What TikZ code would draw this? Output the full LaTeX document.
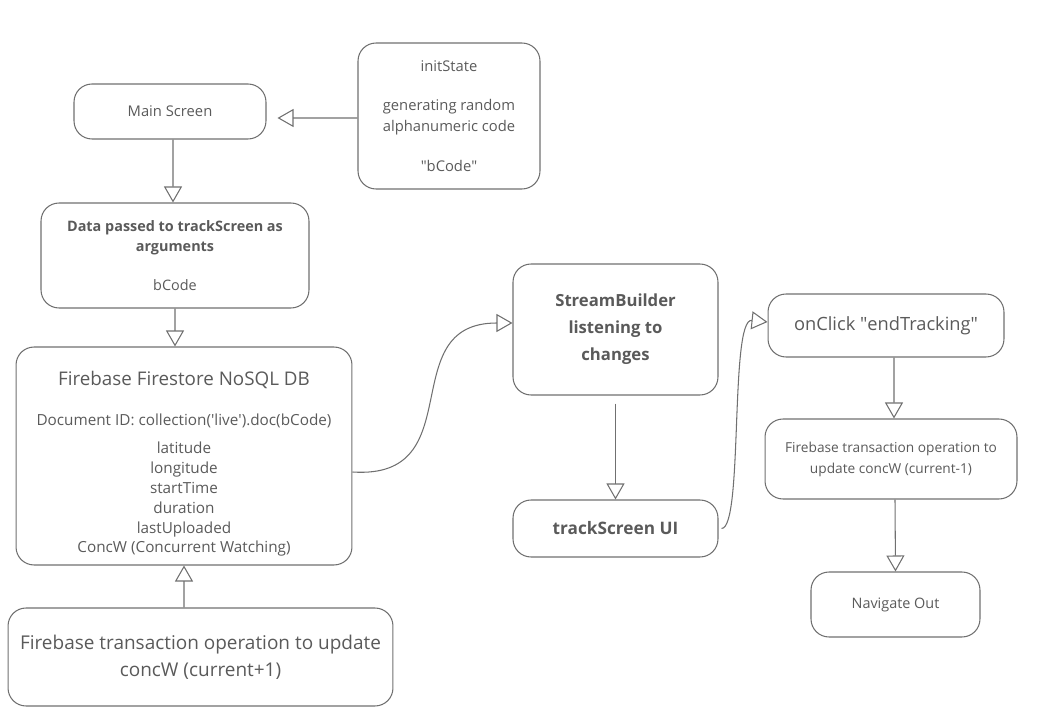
\documentclass[tikz,border=0pt]{standalone}
\usepackage{fontspec}
\setmainfont{Open Sans}
\usetikzlibrary{arrows.meta}
\definecolor{linegray}{RGB}{112,112,112}
\definecolor{textgray}{RGB}{90,90,90}
\newcommand\boxfont{\fontsize{7.9}{11.3}\selectfont}
\newcommand\titlefont{\fontsize{10.4}{15.3}\selectfont}
\begin{document}
\begin{tikzpicture}[x=0.02cm, y=-0.02cm,
          box/.style={draw=linegray, line width=0.6pt, rounded corners=0.36cm, text=textgray,
                      align=center, inner sep=0pt, font=\boxfont},
          flow/.style={draw=linegray, line width=0.6pt,
                       -{Triangle[open, length=0.32cm, width=0.36cm]}}]
          \useasboundingbox (0,0) rectangle (1039,716);
          % left column
          \node[box, minimum width=3.84cm, minimum height=1.10cm, font=\fontsize{8.4}{12}\selectfont] (main) at (170,111.5) {Main Screen};
          \node[box, minimum width=3.64cm, minimum height=2.92cm, font=\fontsize{8.4}{11.9}\selectfont] (init) at (449,116)
              {initState\\[10.5pt] generating random\\ alphanumeric code\\[10.5pt] \textquotedbl bCode\textquotedbl};
          \node[box, minimum width=5.36cm, minimum height=2.10cm, font=\fontsize{8.2}{11.3}\selectfont] (data) at (175,255.5)
              {\textbf{Data passed to trackScreen as}\\ \textbf{arguments}\\[10.8pt] bCode};
          \node[box, minimum width=6.72cm, minimum height=4.36cm] (store) at (184,456) {};
          \node[align=center, inner sep=0pt, text=textgray, font=\fontsize{8.7}{11.3}\selectfont] (storetext) at (184,464)
              {{\fontsize{10.7}{15.3}\selectfont Firebase Firestore NoSQL DB}\\[11.5pt]
               Document ID: collection(\textquotesingle live\textquotesingle).doc(bCode)\\[4.6pt]
               latitude\\ longitude\\ startTime\\ duration\\ lastUploaded\\ ConcW (Concurrent Watching)};
          \node[box, minimum width=7.70cm, minimum height=1.96cm, font=\fontsize{10.8}{15.3}\selectfont] (plus) at (200.5,657)
              {Firebase transaction operation to update\\ concW (current+1)};
          % middle column
          \node[box, minimum width=4.10cm, minimum height=2.62cm, font=\bfseries\fontsize{9.5}{15.3}\selectfont] (stream) at (615.5,329.5)
              {StreamBuilder\\ listening to\\ changes};
          \node[box, minimum width=4.10cm, minimum height=1.14cm, font=\bfseries\fontsize{9.8}{15.3}\selectfont] (ui) at (615.5,528.5) {trackScreen UI};
          % right column
          \node[box, minimum width=4.72cm, minimum height=1.26cm, font=\titlefont] (click) at (886,325.5) {onClick \textquotedbl endTracking\textquotedbl};
          \node[box, minimum width=5.04cm, minimum height=1.60cm, font=\fontsize{7.8}{11.9}\selectfont] (minus) at (891,459)
              {Firebase transaction operation to\\ update concW (current-1)};
          \node[box, minimum width=3.38cm, minimum height=1.30cm, font=\fontsize{8.2}{11.3}\selectfont] (nav) at (895.5,604.5) {Navigate Out};
          % connectors
          \draw[flow] ([yshift=-0.04cm]init.west) -- ([xshift=0.22cm, yshift=-0.13cm]main.east);
          \draw[flow] ([xshift=0.06cm]main.south) -- ([xshift=-0.04cm]data.north);
          \draw[flow] (data.south) -- ([xshift=-0.18cm]store.north);
          \draw[flow] ([xshift=-0.33cm]plus.north) -- (store.south);
          \draw[flow] ([yshift=-0.32cm]store.east) .. controls +(120,8) and +(-120,0) .. ([yshift=0.13cm]stream.west);
          \draw[flow] ([yshift=-0.16cm]stream.south) -- (ui.north);
          \draw[flow] ([xshift=0.06cm]ui.east) .. controls +(22,0) and +(-38,-4) .. ([yshift=0.07cm]click.west);
          \draw[flow] ([xshift=0.16cm]click.south) -- ([xshift=0.06cm]minus.north);
          \draw[flow] ([xshift=0.08cm]minus.south) -- (nav.north);
\end{tikzpicture}
\end{document}
